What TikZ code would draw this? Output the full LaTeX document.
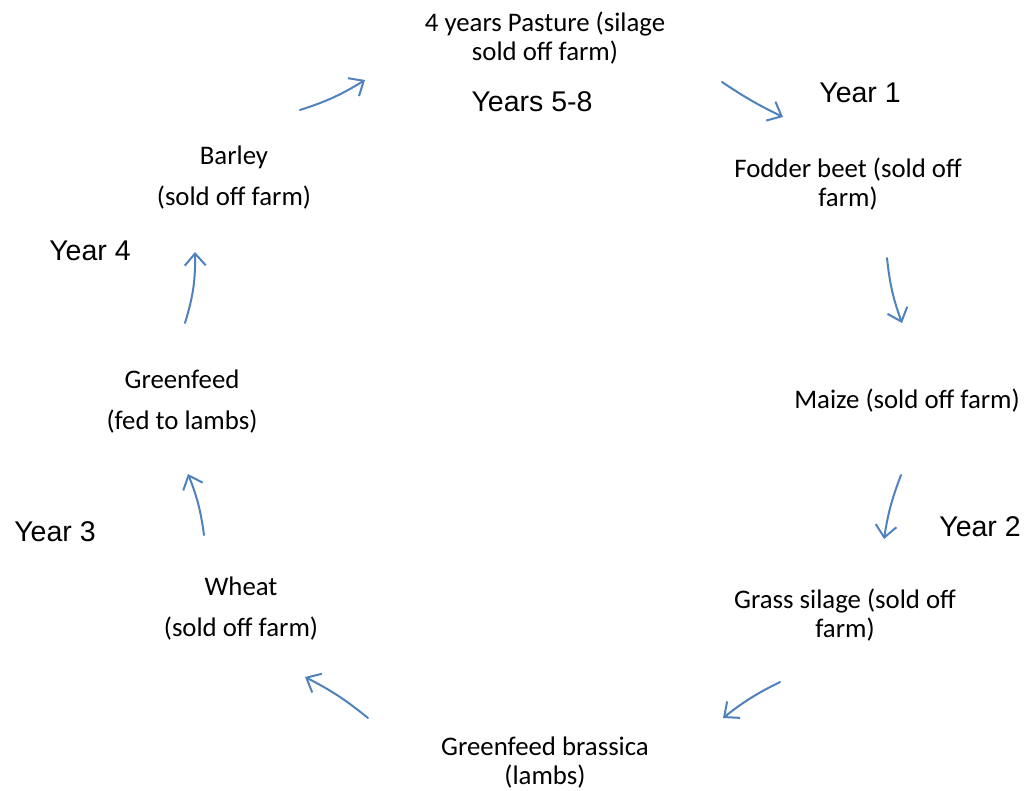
\documentclass[tikz,border=0pt]{standalone}
\usepackage{fontspec}
\setmainfont{Carlito}
\newfontfamily\yearfont{Liberation Sans}
\usetikzlibrary{arrows.meta}
\definecolor{arrowblue}{HTML}{4F81BD}
\tikzset{
  crop/.style={align=center, font=\fontsize{26.8}{29}\selectfont, inner sep=0pt},
  cropwide/.style={align=center, font=\fontsize{26.8}{41}\selectfont, inner sep=0pt},
  yearlbl/.style={font=\yearfont\fontsize{28.5}{33}\selectfont, inner sep=0pt},
  flow/.style={draw=arrowblue, line width=2pt, line cap=round,
    -{Straight Barb[length=12pt, width=21pt, line width=2pt]}},
}
\begin{document}
\begin{tikzpicture}[x=1pt, y=-1pt]
\path[use as bounding box] (0,0) rectangle (1032,791);

% crops
\node[crop] (pasture) at (545,38) {4 years Pasture (silage\\sold off farm)};
\node[crop] (fodder) at (848,184) {Fodder beet (sold off\\farm)};
\node[crop] (maize) at (907,401) {Maize (sold off farm)};
\node[crop] (grass) at (845,615) {Grass silage (sold off\\farm)};
\node[crop] (brassica) at (545,763) {Greenfeed brassica\\(lambs)};
\node[cropwide] (wheat) at (241,609) {Wheat\\(sold off farm)};
\node[cropwide] (greenfeed) at (182,402) {Greenfeed\\(fed to lambs)};
\node[cropwide] (barley) at (234,178) {Barley\\(sold off farm)};

% year labels
\node[yearlbl] (y58) at (532,102) {Years 5-8};
\node[yearlbl] (y1) at (860,93) {Year 1};
\node[yearlbl] (y2) at (980,527) {Year 2};
\node[yearlbl] (y3) at (55,532) {Year 3};
\node[yearlbl] (y4) at (90,251) {Year 4};

% arrow end points
\coordinate (a1s) at (300,110); \coordinate (a1e) at (365,80);
\coordinate (a2s) at (722,82);  \coordinate (a2e) at (783,117);
\coordinate (a3s) at (887,258); \coordinate (a3e) at (902,323);
\coordinate (a4s) at (901,475); \coordinate (a4e) at (884,539);
\coordinate (a5s) at (780,682); \coordinate (a5e) at (723,718);
\coordinate (a6s) at (368,718); \coordinate (a6e) at (305,677);
\coordinate (a7s) at (204,535); \coordinate (a7e) at (188,474);
\coordinate (a8s) at (185,323); \coordinate (a8e) at (195,252);

\draw[flow] (a1s) to[bend right=7] (a1e);
\draw[flow] (a2s) to[bend right=4] (a2e);
\draw[flow] (a3s) to[bend right=7] (a3e);
\draw[flow] (a4s) to[bend right=6] (a4e);
\draw[flow] (a5s) to[bend right=6] (a5e);
\draw[flow] (a6s) to[bend right=6] (a6e);
\draw[flow] (a7s) to[bend right=7] (a7e);
\draw[flow] (a8s) to[bend right=9] (a8e);
\end{tikzpicture}
\end{document}
